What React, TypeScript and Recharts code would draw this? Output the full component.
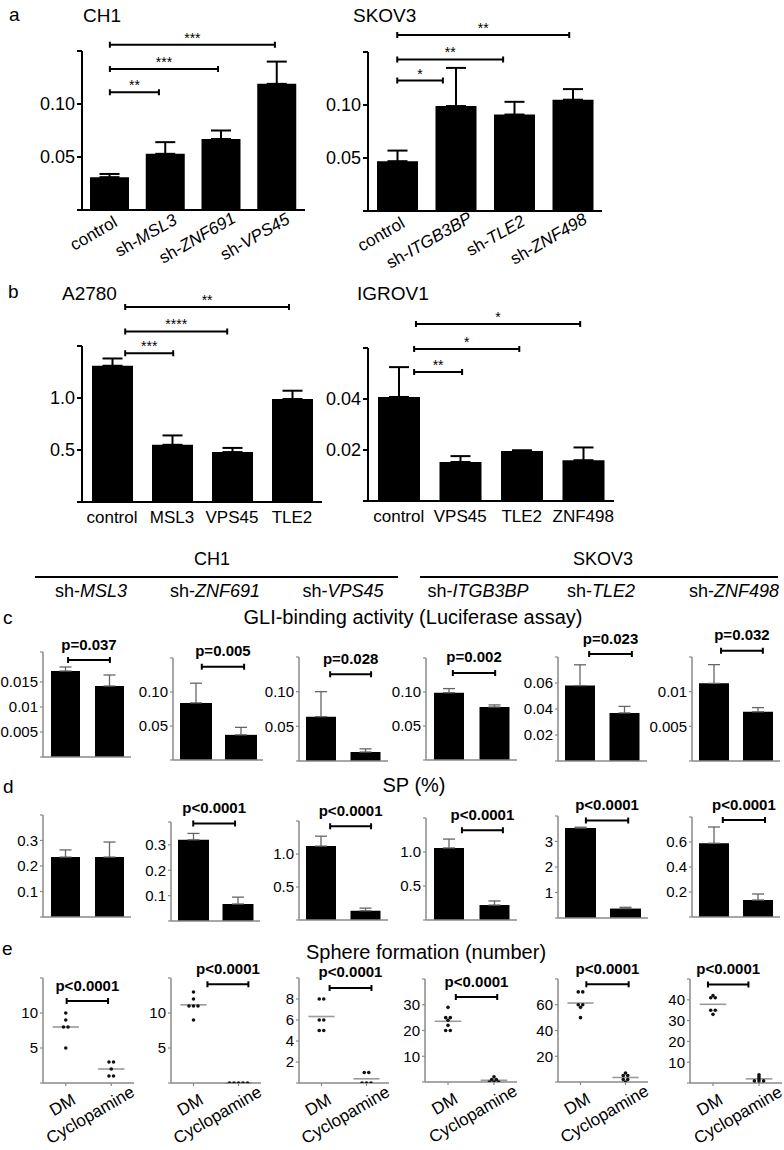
import React from 'react';
import { BarChart, Bar, ErrorBar, XAxis, YAxis, ScatterChart, Scatter, ReferenceLine } from 'recharts';

const FONT = '"Liberation Sans", Arial, Helvetica, sans-serif';

// ---------------- DATA ----------------
// a — CH1
const ch1Groups = ['control', 'sh-MSL3', 'sh-ZNF691', 'sh-VPS45'];
const ch1Means = [0.031, 0.053, 0.067, 0.119];
const ch1Errors = [0.003, 0.011, 0.008, 0.021];
const ch1Stars = ['**', '***', '***'];
const ch1Ticks = [0, 0.05, 0.1, 0.15];
const ch1TickLabels = ['', '0.05', '0.10', ''];

// a — SKOV3
const skov3Groups = ['control', 'sh-ITGB3BP', 'sh-TLE2', 'sh-ZNF498'];
const skov3Means = [0.047, 0.099, 0.091, 0.105];
const skov3Errors = [0.01, 0.036, 0.012, 0.01];
const skov3Stars = ['*', '**', '**'];
const skov3Ticks = [0, 0.05, 0.1, 0.15];
const skov3TickLabels = ['', '0.05', '0.10', ''];

// b — A2780
const a2780Groups = ['control', 'MSL3', 'VPS45', 'TLE2'];
const a2780Means = [1.31, 0.55, 0.48, 0.99];
const a2780Errors = [0.07, 0.09, 0.04, 0.08];
const a2780Stars = ['***', '****', '**'];
const a2780Ticks = [0, 0.5, 1.0, 1.5];
const a2780TickLabels = ['', '0.5', '1.0', ''];

// b — IGROV1
const igrov1Groups = ['control', 'VPS45', 'TLE2', 'ZNF498'];
const igrov1Means = [0.0408, 0.0153, 0.0196, 0.016];
const igrov1Errors = [0.0117, 0.0023, 0.0003, 0.005];
const igrov1Stars = ['**', '*', '*'];
const igrov1Ticks = [0, 0.02, 0.04, 0.06];
const igrov1TickLabels = ['', '0.02', '0.04', ''];

// c–e knockdowns
const cellLines = ['CH1', 'SKOV3'];
const knockdowns = ['sh-MSL3', 'sh-ZNF691', 'sh-VPS45', 'sh-ITGB3BP', 'sh-TLE2', 'sh-ZNF498'];
const pairGroups = ['control', 'shRNA'];

// c — GLI-binding activity (control, shRNA)
const gliMeans = [[0.0172, 0.0142], [0.084, 0.037], [0.064, 0.013], [0.099, 0.078], [0.058, 0.037], [0.0112, 0.0071]];
const gliErrors = [[0.0008, 0.0022], [0.029, 0.011], [0.036, 0.0045], [0.006, 0.003], [0.016, 0.005], [0.0027, 0.0006]];
const gliPValues = ['p=0.037', 'p=0.005', 'p=0.028', 'p=0.002', 'p=0.023', 'p=0.032'];
const gliTicks = [[0, 0.005, 0.01, 0.015, 0.021], [0, 0.05, 0.1, 0.15], [0, 0.05, 0.1, 0.15], [0, 0.05, 0.1, 0.15], [0, 0.02, 0.04, 0.06, 0.08], [0, 0.005, 0.01, 0.015]];
const gliTickLabels = [['', '0.005', '0.01', '0.015', ''], ['', '0.05', '0.10', ''], ['', '0.05', '0.10', ''], ['', '0.05', '0.10', ''], ['', '0.02', '0.04', '0.06', ''], ['', '0.005', '0.01', '']];

// d — SP (%)
const spMeans = [[0.235, 0.235], [0.32, 0.067], [1.12, 0.14], [1.06, 0.22], [3.53, 0.37], [0.59, 0.136]];
const spErrors = [[0.028, 0.059], [0.025, 0.027], [0.15, 0.04], [0.13, 0.06], [0.03, 0.05], [0.13, 0.048]];
const spPValues = ['', 'p<0.0001', 'p<0.0001', 'p<0.0001', 'p<0.0001', 'p<0.0001'];
const spTicks = [[0, 0.1, 0.2, 0.3, 0.4], [0, 0.1, 0.2, 0.3, 0.39], [0, 0.5, 1, 1.5], [0, 0.5, 1, 1.5], [0, 1, 2, 3, 4], [0, 0.2, 0.4, 0.6, 0.8]];
const spTickLabels = [['', '0.1', '0.2', '0.3', ''], ['', '0.1', '0.2', '0.3', ''], ['', '0.5', '1.0', ''], ['', '0.5', '1.0', ''], ['', '1', '2', '3', ''], ['', '0.2', '0.4', '0.6', '']];

// e — Sphere formation (number)
const sphereGroups = ['DM', 'Cyclopamine'];
const sphereDM = [[10, 9, 8, 8, 5], [13, 12, 11, 11, 11, 9], [8, 8, 6, 6, 5, 5], [29, 25, 25, 24, 22, 20, 20], [70, 70, 60, 60, 58, 50], [42, 41, 41, 35, 35, 33]];
const sphereCyc = [[3, 3, 2, 1, 1], [0, 0, 0, 0, 0], [1, 1, 0, 0, 0], [2, 1, 1, 0, 0, 0], [7, 5, 5, 2, 2, 0], [4, 3, 2, 1, 1, 1]];
const sphereP = ['p<0.0001', 'p<0.0001', 'p<0.0001', 'p<0.0001', 'p<0.0001', 'p<0.0001'];
const sphereTicks = [[0, 5, 10, 15], [0, 5, 10, 15], [0, 2, 4, 6, 8, 10], [0, 10, 20, 30, 40], [0, 20, 40, 60, 80], [0, 10, 20, 30, 40, 50]];
const sphereTickLabels = [['', '5', '10', ''], ['', '5', '10', ''], ['', '2', '4', '6', '8', ''], ['', '10', '20', '30', ''], ['', '20', '40', '60', ''], ['', '10', '20', '30', '40', '']];

// ---------------- LAYOUT ----------------
const PL = 70, PR = 40, PT = 70, PB = 90, YW = 60, XH = 60;

const abLayout = [
  { box: [82, 51, 305, 210], barSize: 39, brackets: [[0, 0.88, 0.111], [0, 1.94, 0.133], [0, 2.96, 0.156]], xMode: 'rotated' },
  { box: [368, 52, 602, 211], barSize: 41, brackets: [[0, 0.78, 0.123], [0, 1.81, 0.143], [0, 2.94, 0.166]], xMode: 'rotated' },
  { box: [82, 346, 322, 502], barSize: 41, brackets: [[0.22, 1.02, 1.43], [0.22, 1.92, 1.64], [0.22, 2.95, 1.875]], xMode: 'plain' },
  { box: [368, 348, 614, 501], barSize: 42, brackets: [[0.25, 1.03, 0.0506], [0.25, 1.96, 0.0596], [0.28, 2.95, 0.0694]], xMode: 'plain' },
];
const rowCBoxes = [[43, 652, 131, 757], [173, 658, 263, 760], [299, 657, 388, 761], [426, 658, 517, 760], [558, 657, 647, 761], [692, 657, 780, 761]];
const rowCBarSize = [29, 32, 30, 30, 30, 30];
const rowCBrackets = [[0.07, 1.02, 0.0194], [0.14, 1.08, 0.137], [0.2, 1.12, 0.125], [0.09, 1.02, 0.128], [0.2, 1.16, 0.0823], [0.16, 1.11, 0.0159]];
const rowDBoxes = [[43, 815, 131, 917], [171, 822, 260, 921], [299, 821, 388, 920], [426, 818, 517, 920], [558, 816, 648, 918], [692, 817, 780, 917]];
const rowDBarSize = [29, 31, 30, 30, 31, 30];
const rowDBrackets = [null, [0.0, 0.94, 0.384], [0.2, 1.12, 1.42], [0.29, 1.19, 1.32], [0.12, 1.06, 3.82], [0.2, 1.16, 0.776]];
const rowEBoxes = [[43, 978, 134, 1083], [171, 978, 261, 1083], [299, 978, 389, 1083], [425, 979, 517, 1082], [558, 979, 648, 1082], [690, 979, 782, 1083]];
const rowEBrackets = [[0.02, 0.93, 11.7], [0.31, 1.22, 14.1], [0.18, 1.11, 9.05], [0.17, 1.07, 33], [0.13, 1.07, 76], [-0.11, 0.77, 47.3]];

// ---------------- HELPERS ----------------
function textWidth(s: string, fs: number) {
  let w = 0;
  for (const ch of s) {
    if ('MW'.includes(ch)) w += 0.833;
    else if ('mw'.includes(ch)) w += 0.8;
    else if ('il'.includes(ch)) w += 0.222;
    else if ('ftjI'.includes(ch)) w += 0.278;
    else if ('r-'.includes(ch)) w += 0.333;
    else if (/[A-Z]/.test(ch)) w += 0.69;
    else w += 0.54;
  }
  return w * fs;
}

function geneLabel(label: string) {
  if (label.startsWith('sh-')) {
    return [<tspan key="p">sh-</tspan>, <tspan key="g" fontStyle="italic">{label.slice(3)}</tspan>];
  }
  return label;
}

function RotatedTick(props: any) {
  const { x, y, payload, labels, fontSize, ox, oy } = props;
  const label = labels[Math.round(payload.value)] ?? '';
  const L = textWidth(label, fontSize);
  const ax = Number(x) + ox + 0.19 * L;
  const ay = Number(y) + oy - 0.11 * L;
  return (
    <text x={ax} y={ay} textAnchor="end" fontSize={fontSize} fill="#000" fontFamily={FONT} transform={`rotate(-30 ${ax} ${ay})`}>
      {geneLabel(label)}
    </text>
  );
}

function PlainTick(props: any) {
  const { x, y, payload, labels } = props;
  const label = labels[Math.round(payload.value)] ?? '';
  return (
    <text x={x} y={Number(y) + 21} textAnchor="middle" fontSize={17} fill="#000" fontFamily={FONT}>
      {label}
    </text>
  );
}

function bracketShape(text: string, star: boolean) {
  return (p: any) => {
    const x1 = Number(p.x1), x2 = Number(p.x2), y = Number(p.y1);
    return (
      <g>
        <path d={`M${x1},${y - 3}V${y + 3}M${x1},${y}H${x2}M${x2},${y - 3}V${y + 3}`} stroke="#000" strokeWidth={2} fill="none" />
        <text x={(x1 + x2) / 2} y={star ? y - 2 : y - 10.5} textAnchor="middle" fontSize={star ? 14 : 15} fontWeight={star ? 400 : 700} fill="#000" fontFamily={FONT}>
          {text}
        </text>
      </g>
    );
  };
}

function jitter(values: number[]) {
  const counts = new Map<number, number>();
  const seen = new Map<number, number>();
  values.forEach((v) => counts.set(v, (counts.get(v) || 0) + 1));
  return values.map((v) => {
    const k = seen.get(v) || 0;
    seen.set(v, k + 1);
    const n = counts.get(v) || 1;
    return (k - (n - 1) / 2) * 0.1;
  });
}

// ---------------- PANELS ----------------
function BarPanel(props: any) {
  const { groups, means, errors, ticks, tickLabels, texts, box, barSize, brackets, xMode, big } = props;
  const [l, t, r, b] = box;
  const w = r - l + PL + PR;
  const h = b - t + PT + PB;
  const n = groups.length;
  const data = groups.map((g: string, i: number) => ({ x: i, name: g, value: means[i], err: [0, errors[i]] }));
  const axisColor = big ? '#000' : '#8a8a8a';
  const axisWidth = big ? 2 : 1.5;
  const yMax = ticks[ticks.length - 1];
  let tick: any = false;
  if (xMode === 'rotated') tick = (p: any) => <RotatedTick {...p} labels={groups} fontSize={17} ox={-1} oy={21} />;
  if (xMode === 'plain') tick = (p: any) => <PlainTick {...p} labels={groups} />;
  return (
    <div style={{ position: 'absolute', left: l - PL, top: t - PT, width: w, height: h }}>
      <BarChart width={w} height={h} data={data} margin={{ top: PT, right: PR, bottom: PB - XH, left: PL - YW }}>
        <XAxis
          dataKey="x"
          type="number"
          domain={[-0.5, n - 0.5]}
          allowDataOverflow
          ticks={groups.map((_: string, i: number) => i)}
          interval={0}
          height={XH}
          axisLine={{ stroke: axisColor, strokeWidth: axisWidth }}
          tickLine={big ? false : { stroke: axisColor, strokeWidth: 1.2 }}
          tickSize={big ? 0 : 3}
          tickMargin={0}
          tick={tick}
        />
        <YAxis
          type="number"
          domain={[0, yMax]}
          allowDataOverflow
          ticks={ticks}
          interval={0}
          width={YW}
          axisLine={{ stroke: axisColor, strokeWidth: axisWidth }}
          tickLine={{ stroke: axisColor, strokeWidth: big ? 2 : 1.2 }}
          tickSize={big ? 5 : 3}
          tickMargin={2}
          tick={{ fill: '#000', fontSize: big ? 18 : 15, fontFamily: FONT }}
          tickFormatter={(v: number) => tickLabels[ticks.indexOf(v)] ?? ''}
        />
        <Bar dataKey="value" fill="#000" barSize={barSize} isAnimationActive={false}>
          <ErrorBar dataKey="err" direction="y" width={big ? 10 : 6} stroke={big ? '#000' : '#666'} strokeWidth={big ? 2 : 1.3} />
        </Bar>
        {brackets.map((br: any, i: number) =>
          br ? (
            <ReferenceLine
              key={i}
              segment={[{ x: br[0], y: br[2] }, { x: br[1], y: br[2] }]}
              ifOverflow="visible"
              stroke="#000"
              shape={bracketShape(texts[i], big)}
            />
          ) : null
        )}
      </BarChart>
    </div>
  );
}

function ScatterPanel(props: any) {
  const { dm, cyc, ticks, tickLabels, text, box, bracket } = props;
  const [l, t, r, b] = box;
  const w = r - l + PL + PR;
  const h = b - t + PT + PB;
  const yMax = ticks[ticks.length - 1];
  const axisColor = '#8a8a8a';
  const groupsVals = [dm, cyc];
  const dots: any[] = [];
  groupsVals.forEach((vals: number[], g: number) => {
    const off = jitter(vals);
    vals.forEach((v, k) => dots.push({ x: g + off[k], y: v }));
  });
  const means = groupsVals.map((vals: number[]) => vals.reduce((s, v) => s + v, 0) / vals.length);
  return (
    <div style={{ position: 'absolute', left: l - PL, top: t - PT, width: w, height: h }}>
      <ScatterChart width={w} height={h} margin={{ top: PT, right: PR, bottom: PB - XH, left: PL - YW }}>
        <XAxis
          dataKey="x"
          type="number"
          domain={[-0.5, 1.5]}
          allowDataOverflow
          ticks={[0, 1]}
          interval={0}
          height={XH}
          axisLine={{ stroke: axisColor, strokeWidth: 1.5 }}
          tickLine={{ stroke: axisColor, strokeWidth: 1.2 }}
          tickSize={3}
          tickMargin={0}
          tick={(p: any) => <RotatedTick {...p} labels={sphereGroups} fontSize={17} ox={6} oy={20} />}
        />
        <YAxis
          dataKey="y"
          type="number"
          domain={[0, yMax]}
          allowDataOverflow
          ticks={ticks}
          interval={0}
          width={YW}
          axisLine={{ stroke: axisColor, strokeWidth: 1.5 }}
          tickLine={{ stroke: axisColor, strokeWidth: 1.2 }}
          tickSize={3}
          tickMargin={2}
          tick={{ fill: '#000', fontSize: 15, fontFamily: FONT }}
          tickFormatter={(v: number) => tickLabels[ticks.indexOf(v)] ?? ''}
        />
        {means.map((m: number, g: number) => (
          <ReferenceLine key={'m' + g} segment={[{ x: g - 0.29, y: m }, { x: g + 0.29, y: m }]} ifOverflow="visible" stroke="#9a9a9a" strokeWidth={1.6} />
        ))}
        <Scatter data={dots} isAnimationActive={false} shape={(p: any) => <circle cx={p.cx} cy={p.cy} r={1.8} fill="#111" />} />
        <ReferenceLine
          segment={[{ x: bracket[0], y: bracket[2] }, { x: bracket[1], y: bracket[2] }]}
          ifOverflow="visible"
          stroke="#000"
          shape={bracketShape(text, false)}
        />
      </ScatterChart>
    </div>
  );
}

function Overlay() {
  const T = (props: any) => <text fontFamily={FONT} fill="#000" {...props} />;
  const subCenters = [91, 215, 343, 478, 601, 734];
  return (
    <svg width={784} height={1150} style={{ position: 'absolute', left: 0, top: 0 }}>
      <T x={9} y={21} fontSize={19}>a</T>
      <T x={83} y={22} fontSize={19}>{cellLines[0]}</T>
      <T x={353} y={22} fontSize={19}>{cellLines[1]}</T>
      <T x={8} y={298} fontSize={19}>b</T>
      <T x={62} y={300} fontSize={19}>A2780</T>
      <T x={357} y={300} fontSize={19}>IGROV1</T>
      <T x={212} y={565} fontSize={18} textAnchor="middle">{cellLines[0]}</T>
      <T x={603} y={565} fontSize={18} textAnchor="middle">{cellLines[1]}</T>
      <line x1={35} y1={577} x2={398} y2={577} stroke="#000" strokeWidth={2} />
      <line x1={420} y1={577} x2={778} y2={577} stroke="#000" strokeWidth={2} />
      {knockdowns.map((k, i) => (
        <T key={k} x={subCenters[i]} y={597} fontSize={18} textAnchor="middle">{geneLabel(k)}</T>
      ))}
      <T x={3} y={624} fontSize={19}>c</T>
      <T x={413} y={624} fontSize={20} textAnchor="middle">GLI-binding activity (Luciferase assay)</T>
      <T x={3} y={793} fontSize={19}>d</T>
      <T x={414} y={792} fontSize={20} textAnchor="middle">SP (%)</T>
      <T x={2} y={955} fontSize={19}>e</T>
      <T x={426} y={959} fontSize={20} textAnchor="middle">Sphere formation (number)</T>
    </svg>
  );
}

export default function App() {
  const abData = [
    { groups: ch1Groups, means: ch1Means, errors: ch1Errors, ticks: ch1Ticks, tickLabels: ch1TickLabels, texts: ch1Stars },
    { groups: skov3Groups, means: skov3Means, errors: skov3Errors, ticks: skov3Ticks, tickLabels: skov3TickLabels, texts: skov3Stars },
    { groups: a2780Groups, means: a2780Means, errors: a2780Errors, ticks: a2780Ticks, tickLabels: a2780TickLabels, texts: a2780Stars },
    { groups: igrov1Groups, means: igrov1Means, errors: igrov1Errors, ticks: igrov1Ticks, tickLabels: igrov1TickLabels, texts: igrov1Stars },
  ];
  return (
    <div style={{ position: 'absolute', left: 0, top: 0, width: 784, height: 1150, fontFamily: FONT, background: '#fff', overflow: 'hidden' }}>
      <Overlay />
      {abData.map((d, i) => (
        <BarPanel key={'ab' + i} {...d} {...abLayout[i]} big />
      ))}
      {knockdowns.map((k, i) => (
        <BarPanel
          key={'c' + i}
          groups={pairGroups}
          means={gliMeans[i]}
          errors={gliErrors[i]}
          ticks={gliTicks[i]}
          tickLabels={gliTickLabels[i]}
          texts={[gliPValues[i]]}
          box={rowCBoxes[i]}
          barSize={rowCBarSize[i]}
          brackets={[rowCBrackets[i]]}
          xMode="none"
          big={false}
        />
      ))}
      {knockdowns.map((k, i) => (
        <BarPanel
          key={'d' + i}
          groups={pairGroups}
          means={spMeans[i]}
          errors={spErrors[i]}
          ticks={spTicks[i]}
          tickLabels={spTickLabels[i]}
          texts={[spPValues[i]]}
          box={rowDBoxes[i]}
          barSize={rowDBarSize[i]}
          brackets={[rowDBrackets[i]]}
          xMode="none"
          big={false}
        />
      ))}
      {knockdowns.map((k, i) => (
        <ScatterPanel
          key={'e' + i}
          dm={sphereDM[i]}
          cyc={sphereCyc[i]}
          ticks={sphereTicks[i]}
          tickLabels={sphereTickLabels[i]}
          text={sphereP[i]}
          box={rowEBoxes[i]}
          bracket={rowEBrackets[i]}
        />
      ))}
    </div>
  );
}
